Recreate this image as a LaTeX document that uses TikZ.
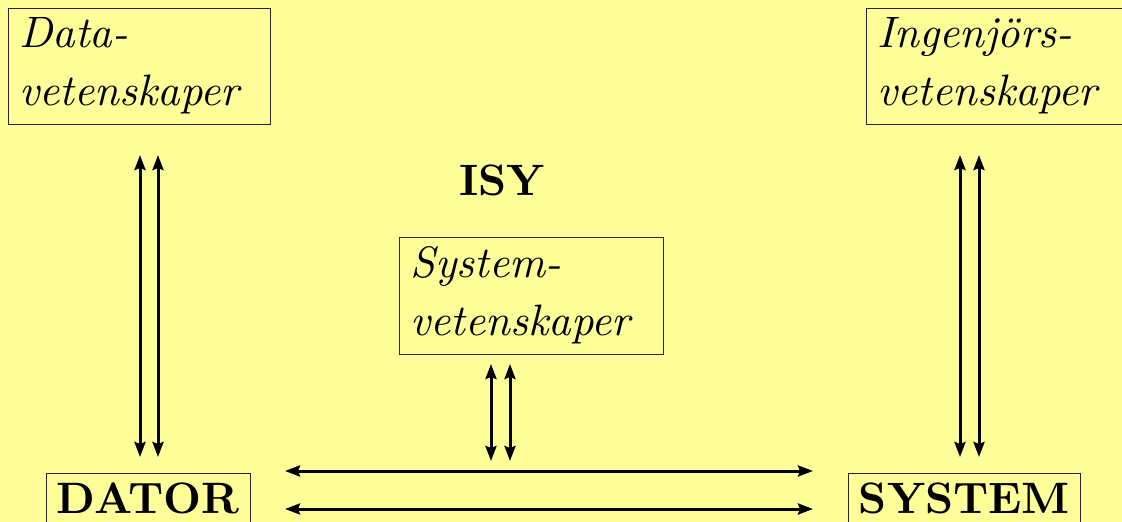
\documentclass[tikz,border=0pt]{standalone}
\usepackage{fontspec}
\setmainfont{lmroman10-regular.otf}[
  ItalicFont=lmroman10-italic.otf,
  BoldFont=lmroman10-bold.otf,
  BoldItalicFont=lmroman10-bolditalic.otf]
\usetikzlibrary{arrows.meta}
\definecolor{paper}{HTML}{FFFF99}
\begin{document}
\begin{tikzpicture}[x=1pt,y=-1pt,
  field/.style={font=\fontsize{44}{58}\selectfont\itshape,
    draw=black!85, line width=0.8pt, anchor=north west, align=left,
    inner xsep=11pt, inner ysep=9.5pt},
  dept/.style={font=\fontsize{44}{58}\selectfont\bfseries,
    draw=black!85, line width=0.8pt, anchor=north west,
    inner xsep=10.5pt, inner ysep=9.5pt},
  link/.style={line width=3pt, {Stealth[length=15pt,width=11pt,inset=2pt]}-{Stealth[length=15pt,width=11pt,inset=2pt]}},
]
% page and its frame
\fill[paper] (0,0) rectangle (1122,522);
\useasboundingbox (0,0) rectangle (1122,522);
\clip (0,0) rectangle (1122,522);

% subject fields
\node[field, text width=240pt] (data) at (8,8) {Data-\\vetenskaper};
\node[field, text width=250pt] (ing) at (866,8) {Ingenjörs-\\vetenskaper};
\node[field, text width=242pt] (sys) at (399,237) {System-\\vetenskaper};

% department and programmes
\node[font=\fontsize{44}{58}\selectfont\bfseries, anchor=base] (isy) at (502,195) {ISY};
\node[dept] (dator) at (46,473) {DATOR};
\node[dept] (system) at (848,473) {SYSTEM};

% link end points
\coordinate (dA1) at (140,155); \coordinate (dB1) at (140,457);
\coordinate (dA2) at (158,155); \coordinate (dB2) at (158,457);
\coordinate (iA1) at (960,155); \coordinate (iB1) at (960,457);
\coordinate (iA2) at (979,155); \coordinate (iB2) at (979,457);
\coordinate (sA1) at (491,364); \coordinate (sB1) at (491,461);
\coordinate (sA2) at (510,364); \coordinate (sB2) at (510,461);
\coordinate (hL1) at (285,471); \coordinate (hR1) at (813,471);
\coordinate (hL2) at (285,509); \coordinate (hR2) at (813,509);

% links
\draw[link] (dA1) -- (dB1);
\draw[link] (dA2) -- (dB2);
\draw[link] (iA1) -- (iB1);
\draw[link] (iA2) -- (iB2);
\draw[link] (sA1) -- (sB1);
\draw[link] (sA2) -- (sB2);
\draw[link] (hL1) -- (hR1);
\draw[link] (hL2) -- (hR2);
\end{tikzpicture}
\end{document}
